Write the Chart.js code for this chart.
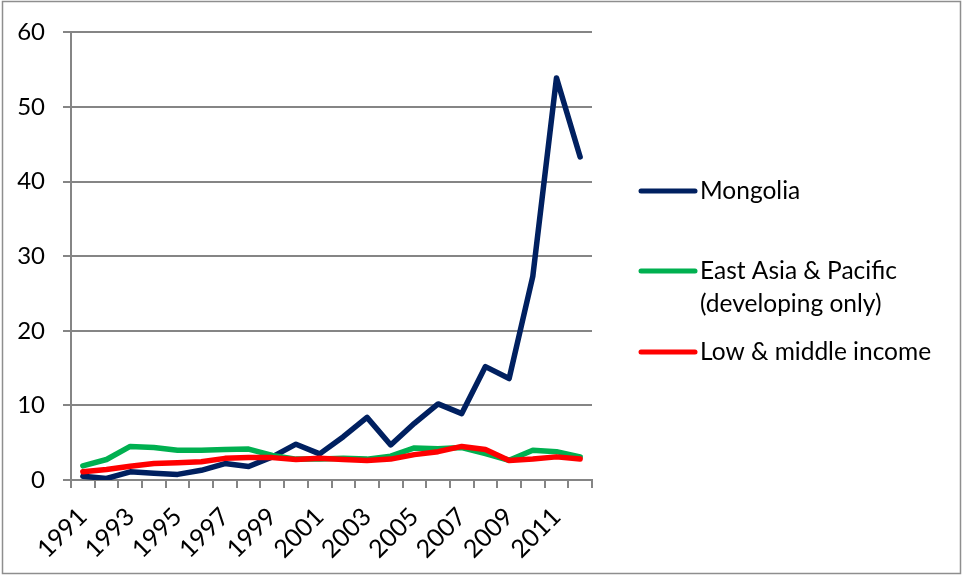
<!DOCTYPE html>
<html>
<head>
<meta charset="utf-8">
<script src="https://cdn.jsdelivr.net/npm/chart.js@4/dist/chart.umd.min.js"></script>
<style>
  html, body { margin: 0; padding: 0; background: #fff; }
  #wrap { width: 962px; height: 575px; position: relative; }
</style>
</head>
<body>
<div id="wrap"><canvas id="growthChart"></canvas></div>
<script>
const years = ["1991", "1992", "1993", "1994", "1995", "1996", "1997", "1998", "1999", "2000", "2001",
    "2002", "2003", "2004", "2005", "2006", "2007", "2008", "2009", "2010", "2011", "2012"];
const mongolia = [0.5, 0.2, 1.1, 0.9, 0.75, 1.3, 2.2, 1.8, 3.1, 4.8, 3.5,
    5.8, 8.4, 4.7, 7.6, 10.2, 8.9, 15.2, 13.6, 27.3, 53.9, 43.3];
const eastAsia = [1.9, 2.75, 4.5, 4.35, 4.0, 4.0, 4.1, 4.15, 3.3, 2.8, 2.8,
    2.9, 2.8, 3.2, 4.3, 4.2, 4.35, 3.55, 2.65, 4.0, 3.8, 3.1];
const lowMiddle = [1.1, 1.4, 1.85, 2.2, 2.3, 2.45, 2.9, 3.0, 3.0, 2.75, 2.9,
    2.75, 2.6, 2.8, 3.4, 3.8, 4.5, 4.1, 2.6, 2.8, 3.1, 2.8];
const yTicks = [0, 10, 20, 30, 40, 50, 60];

const FONT = "Lato, 'Open Sans', sans-serif";
const GRID = "#858585";

// legend rows: one entry per dataset, text may wrap onto several lines
const legendRows = [
    { lines: ["Mongolia"], y: 191 },
    { lines: ["East Asia & Pacific", "(developing only)"], y: 271 },
    { lines: ["Low & middle income"], y: 352 },
];

const sideLegend = {
    id: "sideLegend",
    afterDraw(chart) {
        const ctx = chart.ctx;
        ctx.save();
        chart.data.datasets.forEach((ds, i) => {
            const row = legendRows[i];
            ctx.strokeStyle = ds.borderColor;
            ctx.lineWidth = 5;
            ctx.lineCap = "round";
            ctx.beginPath();
            ctx.moveTo(641, row.y);
            ctx.lineTo(695, row.y);
            ctx.stroke();
            ctx.fillStyle = "#000";
            ctx.font = "24.5px " + FONT;
            ctx.textBaseline = "middle";
            row.lines.forEach((t, k) => ctx.fillText(t, 700, row.y + k * 33));
        });
        ctx.restore();
    },
};

const frame = {
    id: "frame",
    beforeDraw(chart) {
        const ctx = chart.ctx;
        ctx.save();
        ctx.fillStyle = "#fff";
        ctx.fillRect(0, 0, chart.width, chart.height);
        ctx.strokeStyle = "#8e8e8e";
        ctx.lineWidth = 1.5;
        ctx.strokeRect(2.5, 1.5, chart.width - 4, chart.height - 3);
        ctx.restore();
    },
};

new Chart(document.getElementById("growthChart"), {
    type: "line",
    data: {
        labels: years,
        datasets: [
            { label: "Mongolia", data: mongolia, borderColor: "#002060", order: 3 },
            { label: "East Asia & Pacific (developing only)", data: eastAsia, borderColor: "#00b050", order: 2 },
            { label: "Low & middle income", data: lowMiddle, borderColor: "#ff0000", order: 1 },
        ],
    },
    options: {
        responsive: true,
        maintainAspectRatio: false,
        animation: false,
        layout: { padding: { top: 29, right: 370, left: 0, bottom: 0 } },
        elements: {
            line: { borderWidth: 5.5, tension: 0, borderCapStyle: "round", borderJoinStyle: "round" },
            point: { radius: 0 },
        },
        plugins: {
            legend: { display: false },
            tooltip: { enabled: false },
        },
        scales: {
            x: {
                offset: true,
                grid: { drawOnChartArea: false, offset: true, tickLength: 8, color: GRID, lineWidth: 2 },
                border: { color: GRID, width: 2 },
                ticks: {
                    autoSkip: false,
                    minRotation: 45,
                    maxRotation: 45,
                    padding: 14,
                    color: "#000",
                    font: { family: FONT, size: 25 },
                    callback: (v, i) => (i % 2 === 0 ? years[i] : ""),
                },
                afterFit: (s) => { s.height = 95; },
            },
            y: {
                min: 0,
                max: 60,
                afterBuildTicks: (s) => { s.ticks = yTicks.map((v) => ({ value: v })); },
                grid: { color: GRID, lineWidth: 2, tickLength: 8 },
                border: { color: GRID, width: 2 },
                ticks: { padding: 18, color: "#000", font: { family: FONT, size: 24 } },
                afterFit: (s) => { s.width = 71; },
            },
        },
    },
    plugins: [frame, sideLegend],
});
</script>
</body>
</html>
